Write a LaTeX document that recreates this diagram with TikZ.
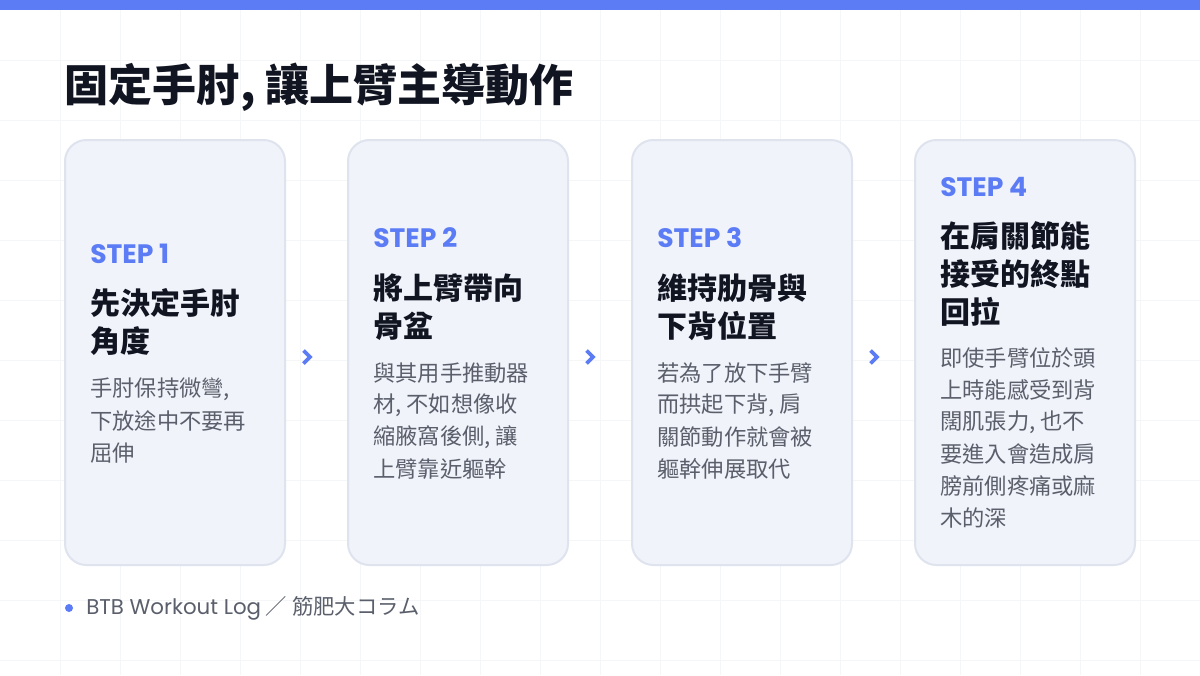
\documentclass[tikz,border=0pt]{standalone}
\usepackage{fontspec}
\setmainfont{Noto Sans CJK TC}
\newfontfamily\pop{Poppins}
\definecolor{accent}{HTML}{5B7CF5}
\definecolor{cardfill}{HTML}{F1F3FA}
\definecolor{cardline}{HTML}{DEE3EE}
\definecolor{ink}{HTML}{111522}
\definecolor{body}{HTML}{5A5F6B}
\definecolor{gridc}{HTML}{F5F6F8}
\begin{document}
\begin{tikzpicture}[x=0.75pt,y=-0.75pt,
  card/.style={draw=cardline,line width=1.5pt,fill=cardfill,rounded corners=16pt},
  stp/.style={anchor=west,inner sep=0,text=accent,font=\pop\bfseries\fontsize{20}{24}\selectfont},
  ttl/.style={anchor=west,inner sep=0,text=ink,font=\bfseries\fontsize{22.5}{27}\selectfont},
  bd/.style={anchor=west,inner sep=0,text=body,font=\fontsize{16.7}{20}\selectfont},
  chev/.style={draw=accent,line width=2.8pt,line join=miter}]
\useasboundingbox (0,0) rectangle (1200,675);
\fill[white] (0,0) rectangle (1200,675);
\foreach \i in {60,120,...,1140} \draw[gridc,line width=0.6pt] (\i,0) -- (\i,675);
\foreach \j in {60,120,...,660} \draw[gridc,line width=0.6pt] (0,\j) -- (1200,\j);
\fill[accent] (0,0) rectangle (1200,10);
\node[anchor=west,inner sep=0,text=ink,font=\bfseries\fontsize{33}{38}\selectfont] (title) at (64,87) {固定手肘, 讓上臂主導動作};
% cards
\draw[card] (65,140) rectangle (285,565);
\draw[card] (348,140) rectangle (568,565);
\draw[card] (632,140) rectangle (852,565);
\draw[card] (915,140) rectangle (1135,565);
% chevrons
\coordinate (c1) at (307,357); \coordinate (c2) at (590,357); \coordinate (c3) at (874,357);
\foreach \c in {c1,c2,c3} \draw[chev] ([shift={(-3.5,-6.5)}]\c) -- ([shift={(3,0)}]\c) -- ([shift={(-3.5,6.5)}]\c);
% card 1
\node[stp] (s1) at (90,254) {STEP 1};
\node[ttl] (t1a) at (90,303) {先決定手肘};
\node[ttl] (t1b) at (90,341) {角度};
\node[bd] (b1a) at (90,389) {手肘保持微彎,};
\node[bd] (b1b) at (90,421) {下放途中不要再};
\node[bd] (b1c) at (90,453) {屈伸};
% card 2
\node[stp] (s2) at (373,238) {STEP 2};
\node[ttl] (t2a) at (373,288) {將上臂帶向};
\node[ttl] (t2b) at (373,326) {骨盆};
\node[bd] (b2a) at (373,373) {與其用手推動器};
\node[bd] (b2b) at (373,405) {材, 不如想像收};
\node[bd] (b2c) at (373,437) {縮腋窩後側, 讓};
\node[bd] (b2d) at (373,469) {上臂靠近軀幹};
% card 3
\node[stp] (s3) at (657,238) {STEP 3};
\node[ttl] (t3a) at (657,288) {維持肋骨與};
\node[ttl] (t3b) at (657,326) {下背位置};
\node[bd] (b3a) at (657,373) {若為了放下手臂};
\node[bd] (b3b) at (657,405) {而拱起下背, 肩};
\node[bd] (b3c) at (657,437) {關節動作就會被};
\node[bd] (b3d) at (657,469) {軀幹伸展取代};
% card 4
\node[stp] (s4) at (940,187) {STEP 4};
\node[ttl] (t4a) at (940,236) {在肩關節能};
\node[ttl] (t4b) at (940,274) {接受的終點};
\node[ttl] (t4c) at (940,312) {回拉};
\node[bd] (b4a) at (940,358) {即使手臂位於頭};
\node[bd] (b4b) at (940,390) {上時能感受到背};
\node[bd] (b4c) at (940,422) {闊肌張力, 也不};
\node[bd] (b4d) at (940,454) {要進入會造成肩};
\node[bd] (b4e) at (940,486) {膀前側疼痛或麻};
\node[bd] (b4f) at (940,518) {木的深};
% footer
\fill[accent] (69,608) circle (4);
\node[anchor=west,inner sep=0,text=body,font=\fontsize{16}{19}\selectfont] (foot) at (86,608) {{\pop BTB Workout Log} ／ 筋肥大コラム};
\end{tikzpicture}
\end{document}
